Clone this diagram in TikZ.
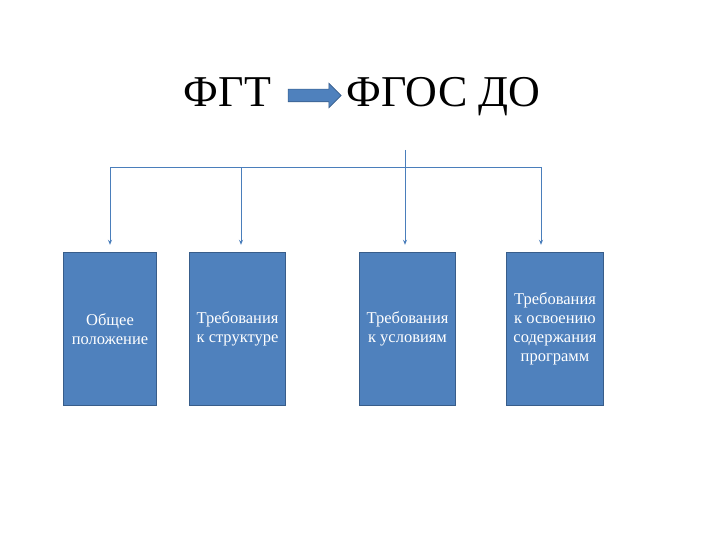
\documentclass[tikz,border=0pt]{standalone}
\usepackage{fontspec}
\setmainfont{Liberation Serif}
\usetikzlibrary{shapes.arrows,arrows.meta}
\definecolor{boxblue}{HTML}{4F81BD}
\definecolor{boxedge}{HTML}{385D8A}
\definecolor{linkblue}{HTML}{4A7EBB}
\tikzset{
  reqbox/.style={draw=boxedge, line width=1.4pt, fill=boxblue, minimum width=93pt,
    minimum height=153pt, text=white, align=center, font=\fontsize{16.5}{18.8}\selectfont, inner sep=1pt},
  link/.style={draw=linkblue, line width=0.8pt, -{Stealth[length=5pt,width=4pt]}},
  title/.style={font=\fontsize{44}{46}\selectfont, anchor=base}
}
\begin{document}
\begin{tikzpicture}[x=1pt, y=-1pt]
                  \useasboundingbox (0,0) rectangle (720,540);
                  % title
                  \node[title] (fgt) at (227.5,107) {ФГТ};
                  \node[title] (fgos) at (443.5,107) {ФГОС ДО};
                  \node[single arrow, draw=boxedge, fill=boxblue, minimum height=53pt, inner xsep=0pt,
                        inner ysep=6pt, single arrow head extend=6pt, single arrow head indent=0pt,
                        line width=0.6pt] (shift) at (311.5,95.5) {};
                  % boxes
                  \node[reqbox] (general) at (110,329) {Общее\\положение};
                  \node[reqbox, minimum width=96pt] (structure) at (237.5,329) {Требования\\к структуре};
                  \node[reqbox, minimum width=96pt] (conditions) at (407.5,329) {Требования\\к условиям};
                  \node[reqbox, minimum width=97pt] (mastering) at (555,329) {Требования\\к освоению\\содержания\\программ};
                  % connectors
                  \coordinate (top) at (405,150);
                  \coordinate (bus) at (405,167);
                  \draw[draw=linkblue, line width=0.8pt] (top) -- (bus);
                  \draw[link] (bus) -| ([yshift=7pt]general.north);
                  \draw[link] (bus) -| ([xshift=3.5pt,yshift=7pt]structure.north);
                  \draw[link] (bus) -- ([xshift=-2.5pt,yshift=7pt]conditions.north);
                  \draw[link] (bus) -| ([xshift=-14pt,yshift=7pt]mastering.north);
            \end{tikzpicture}
\end{document}
